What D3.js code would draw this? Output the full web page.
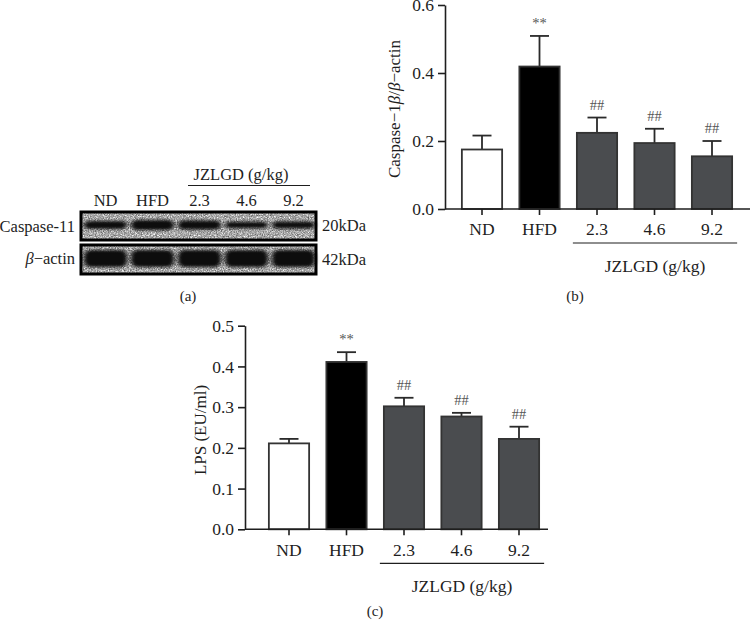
<!DOCTYPE html>
<html>
<head>
<meta charset="utf-8">
<script src="https://cdn.jsdelivr.net/npm/d3@7"></script>
<style>
  body { margin: 0; background: #fff; }
  svg { display: block; font-family: "Liberation Serif", "DejaVu Serif", serif; }
</style>
</head>
<body>
<svg id="fig" width="751" height="625"></svg>
<script>
// groups on every x axis
var groups = ["ND", "HFD", "2.3", "4.6", "9.2"];
var barFill = ["#ffffff", "#000000", "#4a4c4f", "#4a4c4f", "#4a4c4f"];
var marks = ["", "**", "##", "##", "##"];

// panel b: Caspase-1 / beta-actin
var casp1Mean = [0.175, 0.419, 0.224, 0.194, 0.155];
var casp1Err  = [0.041, 0.090, 0.045, 0.042, 0.045];
var casp1Ticks = [0.0, 0.2, 0.4, 0.6];

// panel c: LPS (EU/ml)
var lpsMean = [0.211, 0.411, 0.302, 0.277, 0.222];
var lpsErr  = [0.011, 0.024, 0.021, 0.009, 0.030];
var lpsTicks = [0.0, 0.1, 0.2, 0.3, 0.4, 0.5];

// panel a: band strength per lane (relative thickness)
var caspase11Band = [0.8, 1.0, 0.9, 0.65, 0.7];
var actinBand = [1.0, 1.0, 1.0, 1.0, 1.0];

var svg = d3.select("#fig");
var ink = "#1e1e1e";

// ---------- panel (a) the blot ----------
var defs = svg.append("defs");
function grainFilter(id, seed, level, a, b) {
  var f = defs.append("filter").attr("id", id)
      .attr("x", 0).attr("y", 0).attr("width", 1).attr("height", 1);
  f.append("feTurbulence").attr("type", "fractalNoise")
      .attr("baseFrequency", 0.85).attr("numOctaves", 2).attr("seed", seed);
  f.append("feColorMatrix").attr("type", "matrix")
      .attr("values", "0 0 0 0 " + level + "  0 0 0 0 " + level + "  0 0 0 0 " + level + "  " + a + " 0 0 0 " + b);
  f.append("feComposite").attr("in2", "SourceGraphic").attr("operator", "in");
}
grainFilter("grainW", 4, 1, 2.6, -1.05);
grainFilter("grainK", 9, 0, 2.2, -0.95);

var blur = defs.append("filter").attr("id", "soft")
    .attr("x", -0.2).attr("y", -1).attr("width", 1.4).attr("height", 3);
blur.append("feGaussianBlur").attr("stdDeviation", "2.2 1.4");

var lane = d3.scaleBand().domain(groups).range([83, 316]).paddingInner(0.04);

var blotRows = [
  {name: "Caspase-11", kda: "20kDa", top: 212, h: 28, bands: caspase11Band, bh: 10, dy: -1},
  {name: "actin", kda: "42kDa", top: 245, h: 29, bands: actinBand, bh: 17, dy: -1}
];

blotRows.forEach(function(r) {
  var g = svg.append("g");
  g.append("rect").attr("x", 81).attr("y", r.top).attr("width", 235).attr("height", r.h)
      .attr("fill", "#a2a2a2");
  g.append("rect").attr("x", 81).attr("y", r.top).attr("width", 235).attr("height", r.h)
      .attr("fill", "#ffffff").attr("filter", "url(#grainW)");
  g.append("rect").attr("x", 81).attr("y", r.top).attr("width", 235).attr("height", r.h)
      .attr("fill", "#ffffff").attr("filter", "url(#grainK)").attr("opacity", 0.5);
  g.selectAll(".band").data(groups).enter().append("rect")
      .attr("x", function(d) { return lane(d) + 1; })
      .attr("width", lane.bandwidth() - 2)
      .attr("y", function(d, i) { return r.top + r.h / 2 + r.dy - r.bands[i] * r.bh / 2; })
      .attr("height", function(d, i) { return r.bands[i] * r.bh; })
      .attr("rx", 6)
      .attr("fill", "#080808")
      .attr("filter", "url(#soft)");
  g.append("rect").attr("x", 81).attr("y", r.top).attr("width", 235).attr("height", r.h)
      .attr("fill", "none").attr("stroke", "#000").attr("stroke-width", 3);
  g.append("text").attr("x", 322).attr("y", r.top + r.h / 2 + 5)
      .attr("font-size", 16.5).attr("fill", ink).text(r.kda);
});

svg.append("text").attr("x", 75).attr("y", 232).attr("text-anchor", "end")
    .attr("font-size", 16.5).attr("fill", ink).text("Caspase-11");
var ba = svg.append("text").attr("x", 75).attr("y", 264).attr("text-anchor", "end")
    .attr("font-size", 16.5).attr("fill", ink);
ba.append("tspan").attr("font-style", "italic").text("β");
ba.append("tspan").text("−actin");

svg.selectAll(".lanelab").data(groups).enter().append("text")
    .attr("x", function(d) { return lane(d) + lane.bandwidth() / 2; })
    .attr("y", 206).attr("text-anchor", "middle")
    .attr("font-size", 16.5).attr("fill", ink).text(function(d) { return d; });
svg.append("line").attr("x1", 188).attr("x2", 310).attr("y1", 185.5).attr("y2", 185.5)
    .attr("stroke", ink).attr("stroke-width", 1.2);
svg.append("text").attr("x", 241).attr("y", 180).attr("text-anchor", "middle")
    .attr("font-size", 16.5).attr("fill", ink).text("JZLGD (g/kg)");
svg.append("text").attr("x", 188).attr("y", 301).attr("text-anchor", "middle")
    .attr("font-size", 15).attr("fill", ink).text("(a)");

// ---------- bar chart helper ----------
function barPanel(opt) {
  var y = d3.scaleLinear().domain([0, opt.ymax]).range([opt.y0, opt.y1]);
  var x = d3.scaleBand().domain(groups).range([opt.xs, opt.xs + 287.5])
      .paddingInner(0.3).paddingOuter(0.15);
  var g = svg.append("g");

  // y axis
  var ya = g.append("g").attr("transform", "translate(" + opt.ax + ",0)")
      .call(d3.axisLeft(y).tickValues(opt.ticks).tickFormat(d3.format(".1f"))
        .tickSize(7).tickSizeOuter(0).tickPadding(4));
  ya.select(".domain").attr("stroke", ink).attr("stroke-width", 1.6);
  ya.selectAll(".tick line").attr("stroke", ink).attr("stroke-width", 1.6);
  ya.selectAll("text").attr("font-size", 17.5).attr("fill", ink)
      .attr("font-family", "Liberation Serif, serif");

  // error bars (upper only)
  var eb = g.selectAll(".err").data(groups).enter().append("g");
  eb.append("line")
      .attr("x1", function(d) { return x(d) + x.bandwidth() / 2; })
      .attr("x2", function(d) { return x(d) + x.bandwidth() / 2; })
      .attr("y1", function(d, i) { return y(opt.mean[i]); })
      .attr("y2", function(d, i) { return y(opt.mean[i] + opt.err[i]); })
      .attr("stroke", "#2a2a2a").attr("stroke-width", 1.8);
  eb.append("line")
      .attr("x1", function(d) { return x(d) + x.bandwidth() / 2 - 9.5; })
      .attr("x2", function(d) { return x(d) + x.bandwidth() / 2 + 9.5; })
      .attr("y1", function(d, i) { return y(opt.mean[i] + opt.err[i]); })
      .attr("y2", function(d, i) { return y(opt.mean[i] + opt.err[i]); })
      .attr("stroke", "#2a2a2a").attr("stroke-width", 1.8);

  // bars
  g.selectAll(".bar").data(groups).enter().append("rect")
      .attr("x", function(d) { return x(d); })
      .attr("width", x.bandwidth())
      .attr("y", function(d, i) { return y(opt.mean[i]); })
      .attr("height", function(d, i) { return y(0) - y(opt.mean[i]); })
      .attr("fill", function(d, i) { return barFill[i]; })
      .attr("stroke", "#333").attr("stroke-width", 1.8);

  // significance marks
  g.selectAll(".sig").data(groups).enter().append("text")
      .attr("x", function(d) { return x(d) + x.bandwidth() / 2; })
      .attr("y", function(d, i) { return y(opt.mean[i] + opt.err[i]) - 8; })
      .attr("text-anchor", "middle").attr("font-size", 14.5).attr("fill", "#555")
      .text(function(d, i) { return marks[i]; });

  // x axis
  var xa = g.append("g").attr("transform", "translate(0," + opt.y0 + ")")
      .call(d3.axisBottom(x).tickSize(6).tickSizeOuter(0).tickPadding(8));
  xa.select(".domain").remove();
  xa.selectAll(".tick line").attr("stroke", ink).attr("stroke-width", 1.6);
  xa.selectAll("text").attr("font-size", 17.5).attr("fill", ink)
      .attr("font-family", "Liberation Serif, serif");
  g.append("line").attr("x1", opt.ax).attr("x2", opt.xend)
      .attr("y1", opt.y0).attr("y2", opt.y0)
      .attr("stroke", ink).attr("stroke-width", 1.6);

  // treatment bracket
  var x1 = x("2.3") - 4, x2 = x("9.2") + x.bandwidth() + 5;
  g.append("line").attr("x1", x1).attr("x2", x2)
      .attr("y1", opt.y0 + 34).attr("y2", opt.y0 + 34)
      .attr("stroke", ink).attr("stroke-width", 1.2);
  g.append("text").attr("x", (x1 + x2) / 2).attr("y", opt.y0 + 63)
      .attr("text-anchor", "middle").attr("font-size", 17.5).attr("fill", ink)
      .text("JZLGD (g/kg)");
  return g;
}

// ---------- panel (b) ----------
barPanel({mean: casp1Mean, err: casp1Err, ticks: casp1Ticks, ymax: 0.6,
  y0: 209, y1: 5, ax: 445, xs: 453.25, xend: 750});
var lb = svg.append("text").attr("transform", "translate(400,109) rotate(-90)")
    .attr("text-anchor", "middle").attr("font-size", 17).attr("fill", ink);
lb.append("tspan").text("Caspase−1");
lb.append("tspan").attr("font-style", "italic").text("β");
lb.append("tspan").text("/");
lb.append("tspan").attr("font-style", "italic").text("β");
lb.append("tspan").text("−actin");
svg.append("text").attr("x", 575).attr("y", 301).attr("text-anchor", "middle")
    .attr("font-size", 15).attr("fill", ink).text("(b)");

// ---------- panel (c) ----------
barPanel({mean: lpsMean, err: lpsErr, ticks: lpsTicks, ymax: 0.5,
  y0: 529.3, y1: 325.7, ax: 245, xs: 260.25, xend: 548});
svg.append("text").attr("transform", "translate(206,430) rotate(-90)")
    .attr("text-anchor", "middle").attr("font-size", 17).attr("fill", ink)
    .text("LPS (EU/ml)");
svg.append("text").attr("x", 375).attr("y", 616).attr("text-anchor", "middle")
    .attr("font-size", 15).attr("fill", ink).text("(c)");
</script>
</body>
</html>
